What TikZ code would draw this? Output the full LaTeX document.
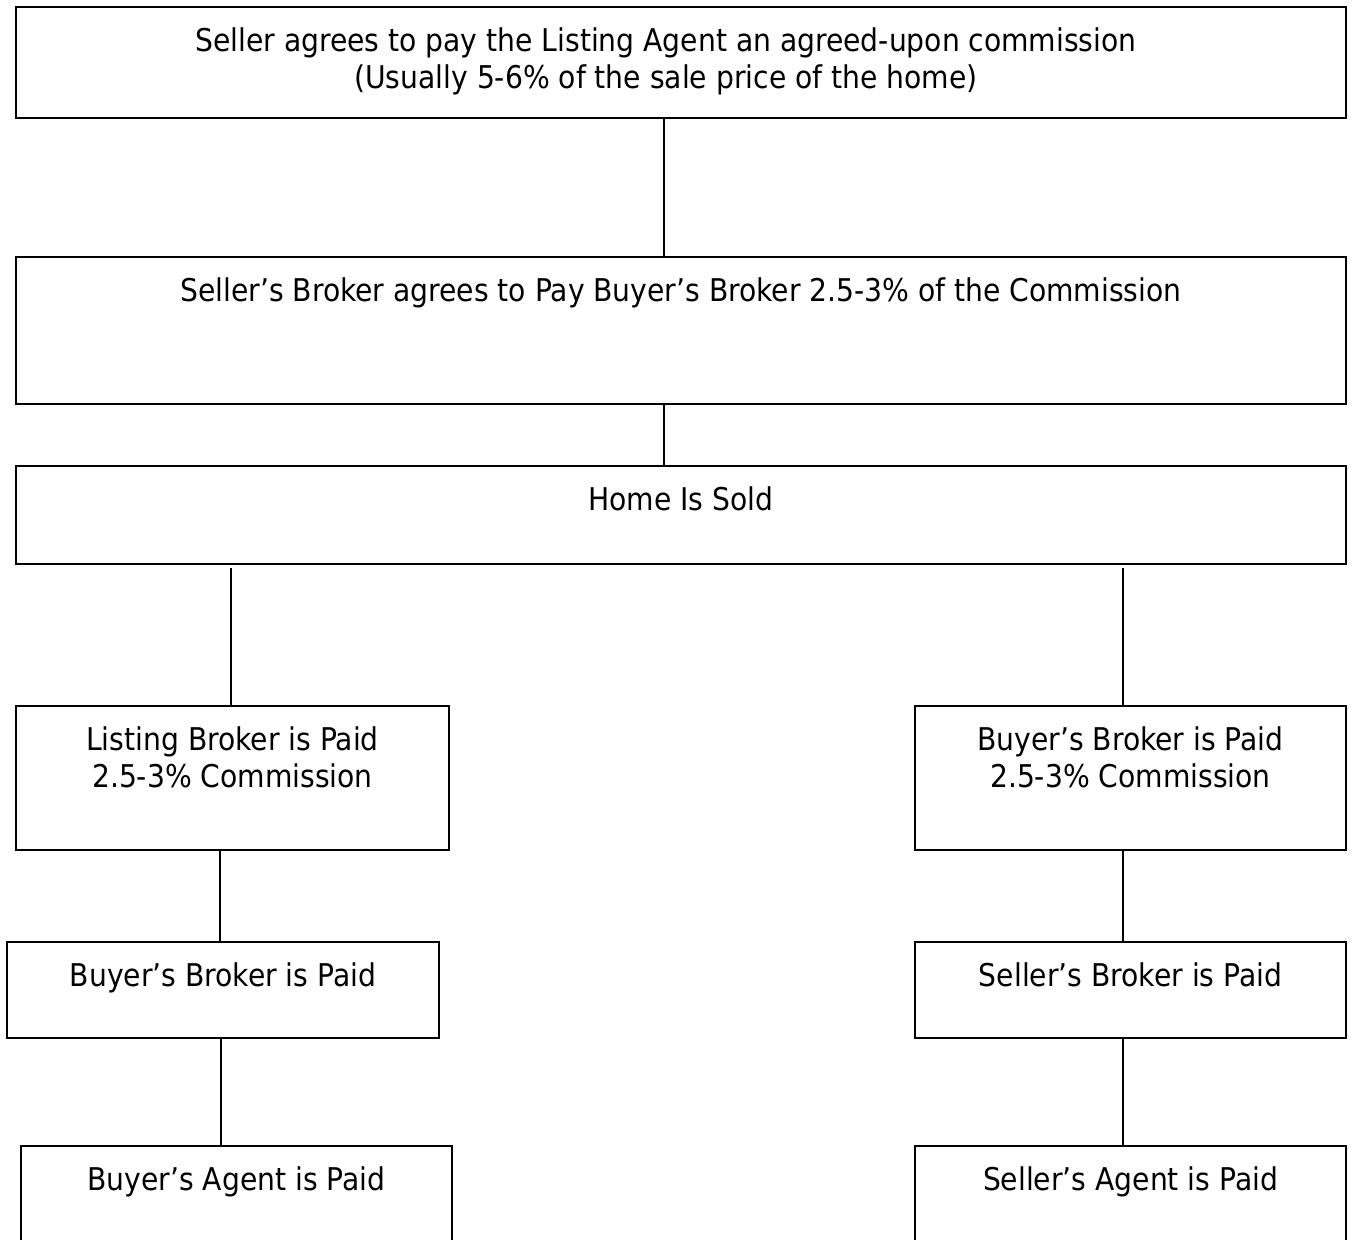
\documentclass[tikz,border=0pt]{standalone}
\usepackage{fontspec}
\setmainfont{DejaVu Sans Condensed}
\newdimen\pxu \pxu=0.75pt
\tikzset{
  flowbox/.style={draw=black, line width=1.5pt, inner sep=0pt, outer sep=0pt, anchor=north west,
    font=\fontsize{23.5pt}{27.75pt}\selectfont},
  link/.style={draw=black, line width=1.5pt}
}
\newcommand{\flowbox}[6]{%
  \node[flowbox, minimum width=#4\pxu, minimum height=#5\pxu] (#1) at (#2,#3)
    {\parbox[c][#5\pxu][t]{#4\pxu}{\centering\rule{0pt}{44\pxu}#6}};}
\begin{document}
\begin{tikzpicture}[x=0.75pt, y=-0.75pt]
\useasboundingbox (0,0) rectangle (1352,1239);
\clip (0,0) rectangle (1352,1239);
\fill[white] (0,0) rectangle (1352,1239);
\flowbox{b1}{16}{7}{1330}{111}{\hspace*{-30\pxu}Seller agrees to pay the Listing Agent an agreed-upon commission\\\hspace*{-30\pxu}(Usually 5-6\% of the sale price of the home)}
\flowbox{b2}{16}{257}{1330}{147}{Seller’s Broker agrees to Pay Buyer’s Broker 2.5-3\% of the Commission}
\flowbox{b3}{16}{466}{1330}{98}{Home Is Sold}
\flowbox{b4}{16}{706}{433}{144}{Listing Broker is Paid\\2.5-3\% Commission}
\flowbox{b5}{915}{706}{431}{144}{Buyer’s Broker is Paid\\2.5-3\% Commission}
\flowbox{b6}{7}{942}{432}{96}{Buyer’s Broker is Paid}
\flowbox{b7}{915}{942}{431}{96}{Seller’s Broker is Paid}
\flowbox{b8}{21}{1146}{431}{130}{Buyer’s Agent is Paid}
\flowbox{b9}{915}{1146}{431}{130}{Seller’s Agent is Paid}
\coordinate (sl) at (231,568);
\coordinate (sr) at (1123,568);
\draw[link] (b1.south -| 664,0) -- (b2.north -| 664,0);
\draw[link] (b2.south -| 664,0) -- (b3.north -| 664,0);
\draw[link] (sl) -- (sl |- b4.north);
\draw[link] (sr) -- (sr |- b5.north);
\draw[link] (b4.south -| 220,0) -- (b6.north -| 220,0);
\draw[link] (b5.south -| 1123,0) -- (b7.north -| 1123,0);
\draw[link] (b6.south -| 221,0) -- (b8.north -| 221,0);
\draw[link] (b7.south -| 1123,0) -- (b9.north -| 1123,0);
\end{tikzpicture}
\end{document}
